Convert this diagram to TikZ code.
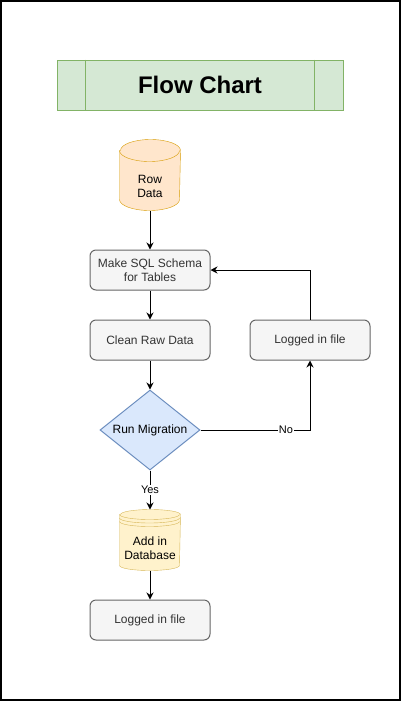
\documentclass[tikz,border=0pt]{standalone}
\usepackage{fontspec}
\setmainfont{Liberation Sans}
\usepackage{xcolor}
\usepackage{tikz}
\usetikzlibrary{positioning}
\usetikzlibrary{backgrounds}
\usetikzlibrary{shapes.geometric}
\usetikzlibrary{arrows.meta}

\definecolor{titlefill}{HTML}{D5E8D4}
\definecolor{titleline}{HTML}{82B366}
\definecolor{rowfill}{HTML}{FFE6CC}
\definecolor{rowline}{HTML}{D79B00}
\definecolor{boxfill}{HTML}{F5F5F5}
\definecolor{boxline}{HTML}{666666}
\definecolor{boxtext}{HTML}{333333}
\definecolor{decfill}{HTML}{DAE8FC}
\definecolor{decline}{HTML}{6C8EBF}
\definecolor{dbfill}{HTML}{FFF2CC}
\definecolor{dbline}{HTML}{D6B656}

\tikzset{
  gray box/.style={draw=boxline, fill=boxfill, text=boxtext, rounded corners=6pt, minimum width=120pt, minimum height=40pt, inner sep=0pt},
  decision/.style={diamond, aspect=1.25, draw=decline, fill=decfill, minimum width=100pt, minimum height=80pt, inner sep=0pt},
  store body/.style={minimum width=60pt, inner sep=0pt},
  edge label/.style={fill=white, inner sep=1pt, font=\fontsize{11pt}{13pt}\selectfont}
}

\begin{document}
\begin{tikzpicture}[line width=1pt, >={Stealth[length=7pt, width=7pt]}, every text node part/.style={align=center}, font=\fontsize{12pt}{14.4pt}\selectfont]
\useasboundingbox (0,0) rectangle (401pt,-702pt);
\draw [line width=1.5pt] (1pt,-1pt) rectangle (400pt,-700pt);

\node (title) at (200pt,-85pt) [draw=titleline, fill=titlefill, minimum width=286pt, minimum height=50pt] {\fontsize{24pt}{28pt}\selectfont\bfseries Flow Chart};
\draw [titleline] ([xshift=29pt]title.north west) -- ([xshift=29pt]title.south west);
\draw [titleline] ([xshift=-29pt]title.north east) -- ([xshift=-29pt]title.south east);

\node (row data) at (150pt,-186.5pt) [store body, minimum height=47pt] {Row\\Data};
\node (make schema) [gray box, node distance=83.5pt, below of=row data] {Make SQL Schema\\for Tables};
\node (clean data) [gray box, node distance=70pt, below of=make schema] {Clean Raw Data};
\node (logged right) [gray box, node distance=160pt, right of=clean data] {Logged in file};
\node (run migration) [decision, node distance=90pt, below of=clean data] {Run Migration};
\node (add database) [store body, minimum height=43pt, node distance=118.5pt, below of=run migration] {Add in\\Database};
\node (logged bottom) [gray box, node distance=71.5pt, below of=add database] {Logged in file};
\coordinate (add database top) at ([yshift=17pt]add database.north);

% cylinder and data store drawn behind the text
\begin{scope}[on background layer]
\draw [draw=rowline, fill=rowfill] ([yshift=12pt]row data.north west) -- ([yshift=11pt]row data.south west) arc[start angle=180, end angle=360, x radius=30pt, y radius=11pt] -- ([yshift=12pt]row data.north east) arc[start angle=0, end angle=180, x radius=30pt, y radius=11pt] -- cycle;
\draw [rowline] ([yshift=12pt]row data.north west) arc[start angle=180, end angle=360, x radius=30pt, y radius=11pt];

\draw [draw=dbline, fill=dbfill] ([yshift=12pt]add database.north west) -- ([yshift=5pt]add database.south west) arc[start angle=180, end angle=360, x radius=30pt, y radius=5pt] -- ([yshift=12pt]add database.north east) arc[start angle=0, end angle=180, x radius=30pt, y radius=5pt] -- cycle;
\foreach \dy in {12pt,8.5pt,5pt}
  \draw [dbline] ([yshift=\dy]add database.north west) arc[start angle=180, end angle=360, x radius=30pt, y radius=5pt];
\end{scope}

\draw [->] (row data.south) -- (make schema.north);
\draw [->] (make schema.south) -- (clean data.north);
\draw [->] (clean data.south) -- (run migration.north);
\draw [->] (run migration.east) -| node [edge label, pos=0.39] {No} (logged right.south);
\draw [->] (logged right.north) |- (make schema.east);
\draw [->] (run migration.south) -- node [edge label] {Yes} (add database top);
\draw [->] (add database.south) -- ([yshift=0pt]logged bottom.north);

\end{tikzpicture}
\end{document}
